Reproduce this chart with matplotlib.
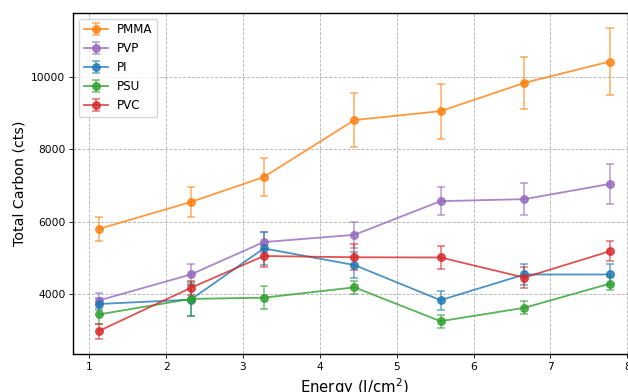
# Total carbon vs laser energy for the polymer series

import matplotlib
matplotlib.use('Agg')
import matplotlib.pyplot as plt
import numpy as np

energy = [1.12, 2.32, 3.27, 4.45, 5.57, 6.66, 7.77]

pmma = [5800, 6545, 7235, 8810, 9055, 9835, 10425]
pmma_err = [320, 420, 520, 740, 760, 720, 920]

pvp = [3825, 4545, 5440, 5640, 6570, 6625, 7045]
pvp_err = [200, 280, 290, 350, 390, 440, 550]

pi = [3730, 3850, 5265, 4805, 3835, 4545, 4545]
pi_err = [170, 440, 460, 350, 260, 290, 290]

psu = [3440, 3870, 3905, 4190, 3255, 3625, 4290]
psu_err = [260, 470, 320, 180, 180, 180, 180]

pvc = [2980, 4175, 5055, 5020, 5015, 4460, 5185]
pvc_err = [210, 200, 300, 360, 320, 300, 280]

series = [('PMMA', pmma, pmma_err, 'tab:orange'),
          ('PVP', pvp, pvp_err, 'tab:purple'),
          ('PI', pi, pi_err, 'tab:blue'),
          ('PSU', psu, psu_err, 'tab:green'),
          ('PVC', pvc, pvc_err, 'tab:red')]

s = 0.775  # the original was drawn larger and shrunk

fig = plt.figure(figsize=(6.28, 3.92), dpi=100)
ax = fig.add_axes([0.1162, 0.0962, 0.8952, 0.8714])

for name, vals, errs, col in series:
    line, caps, bars = ax.errorbar(energy, vals, yerr=errs, color=col, marker='o',
                                   markersize=5.4, capsize=4 * s, linewidth=1.3,
                                   elinewidth=1.3, capthick=1.3, label=name)
    line.set_alpha(0.8)
    for c in caps:
        c.set_alpha(0.55)
    for b in bars:
        b.set_alpha(0.55)

ax.grid(True, linestyle='--', color='gray', alpha=0.6, linewidth=0.8 * s)
ax.set_xlabel(r'Energy (J/cm$^2$)', fontsize=10.7, labelpad=4 * s)
ax.set_ylabel('Total Carbon (cts)', fontsize=10.2, labelpad=4 * s)
ax.tick_params(labelsize=7.7, length=3.5 * s, width=0.8 * s, pad=3.5 * s)
for sp in ax.spines.values():
    sp.set_linewidth(1.0)
ax.set_yticks([4000, 6000, 8000, 10000])
ax.legend(loc='upper left', fontsize=8.6, borderaxespad=0.5)

fig.savefig('out.png', dpi=100)
